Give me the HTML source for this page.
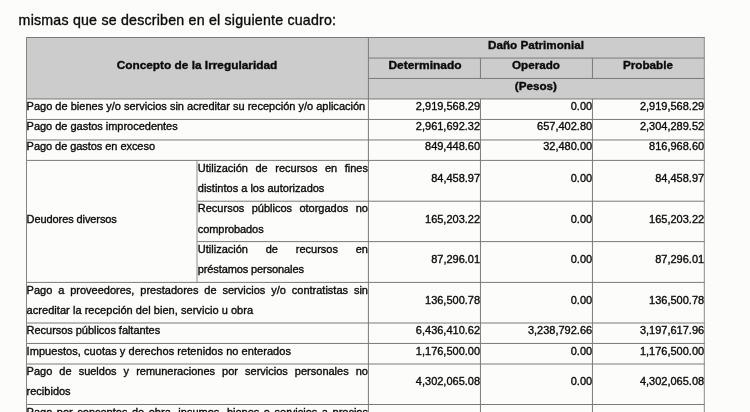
<!DOCTYPE html>
<html lang="es"><head><meta charset="utf-8"><title>Cuadro</title><style>
html,body{margin:0;padding:0;}
body{width:750px;height:412px;overflow:hidden;background:#fcfcfa;position:relative;font-family:"Liberation Sans",sans-serif;color:#0a0a0a;}
.grid{position:absolute;left:0;top:0;}
.t{position:absolute;white-space:nowrap;font-size:11px;line-height:20px;-webkit-text-stroke:0.35px #0a0a0a;}
.b{font-weight:bold;transform:scaleX(1.06);transform-origin:50% 50%;}
.j{text-align:justify;text-align-last:justify;white-space:normal;}
</style></head>
<body>
<svg class="grid" width="750" height="412" viewBox="0 0 750 412" shape-rendering="geometricPrecision"><rect x="26.50" y="37.50" width="677.80" height="61.45" fill="#cccccc"/><rect x="26.00" y="37.00" width="678.80" height="1.00" fill="#7a7a7a"/><rect x="26.00" y="98.45" width="678.80" height="1.00" fill="#7a7a7a"/><rect x="26.00" y="118.95" width="678.80" height="1.00" fill="#7a7a7a"/><rect x="26.00" y="139.45" width="678.80" height="1.00" fill="#7a7a7a"/><rect x="26.00" y="159.90" width="678.80" height="1.00" fill="#7a7a7a"/><rect x="26.00" y="281.90" width="678.80" height="1.00" fill="#7a7a7a"/><rect x="26.00" y="322.50" width="678.80" height="1.00" fill="#7a7a7a"/><rect x="26.00" y="342.95" width="678.80" height="1.00" fill="#7a7a7a"/><rect x="26.00" y="363.50" width="678.80" height="1.00" fill="#7a7a7a"/><rect x="26.00" y="404.00" width="678.80" height="1.00" fill="#7a7a7a"/><rect x="368.40" y="57.55" width="336.40" height="1.00" fill="#7a7a7a"/><rect x="368.40" y="77.95" width="336.40" height="1.00" fill="#7a7a7a"/><rect x="197.00" y="200.70" width="507.80" height="1.00" fill="#7a7a7a"/><rect x="197.00" y="241.10" width="507.80" height="1.00" fill="#7a7a7a"/><rect x="26.00" y="37.00" width="1.00" height="375.00" fill="#858585"/><rect x="703.80" y="37.00" width="1.00" height="375.00" fill="#8c8c8c"/><rect x="367.90" y="37.00" width="1.00" height="375.00" fill="#7a7a7a"/><rect x="479.95" y="58.05" width="1.00" height="20.40" fill="#7a7a7a"/><rect x="479.95" y="98.95" width="1.00" height="313.05" fill="#7a7a7a"/><rect x="591.95" y="58.05" width="1.00" height="20.40" fill="#7a7a7a"/><rect x="591.95" y="98.95" width="1.00" height="313.05" fill="#7a7a7a"/><rect x="196.50" y="160.40" width="1.00" height="122.00" fill="#8c8c8c"/></svg>
<div class="t" style="left:18.60px;top:10.08px;font-size:14.2px;letter-spacing:0.215px;">mismas que se describen en el siguiente cuadro:</div>
<div class="t b" style="left:26.20px;top:55.49px;width:341.90px;text-align:center;transform:scaleX(1.077);">Concepto de la Irregularidad</div>
<div class="t b" style="left:368.40px;top:34.79px;width:335.90px;text-align:center;">Daño Patrimonial</div>
<div class="t b" style="left:368.70px;top:55.29px;width:112.00px;text-align:center;transform:scaleX(1.088);">Determinado</div>
<div class="t b" style="left:480.45px;top:55.29px;width:112.00px;text-align:center;">Operado</div>
<div class="t b" style="left:592.45px;top:55.29px;width:112.00px;text-align:center;">Probable</div>
<div class="t b" style="left:368.40px;top:75.79px;width:335.90px;text-align:center;">(Pesos)</div>
<div class="t" style="left:26.60px;top:95.59px;letter-spacing:0.007px;">Pago de bienes y/o servicios sin acreditar su recepción y/o aplicación</div>
<div class="t" style="left:368.90px;top:95.59px;width:111.20px;text-align:right;">2,919,568.29</div>
<div class="t" style="left:480.95px;top:95.59px;width:111.20px;text-align:right;">0.00</div>
<div class="t" style="left:592.95px;top:95.59px;width:111.20px;text-align:right;">2,919,568.29</div>
<div class="t" style="left:26.60px;top:115.99px;letter-spacing:-0.02px;">Pago de gastos improcedentes</div>
<div class="t" style="left:368.90px;top:115.99px;width:111.20px;text-align:right;">2,961,692.32</div>
<div class="t" style="left:480.95px;top:115.99px;width:111.20px;text-align:right;">657,402.80</div>
<div class="t" style="left:592.95px;top:115.99px;width:111.20px;text-align:right;">2,304,289.52</div>
<div class="t" style="left:26.60px;top:136.39px;letter-spacing:-0.054px;">Pago de gastos en exceso</div>
<div class="t" style="left:368.90px;top:136.39px;width:111.20px;text-align:right;">849,448.60</div>
<div class="t" style="left:480.95px;top:136.39px;width:111.20px;text-align:right;">32,480.00</div>
<div class="t" style="left:592.95px;top:136.39px;width:111.20px;text-align:right;">816,968.60</div>
<div class="t" style="left:26.60px;top:208.59px;letter-spacing:-0.09px;">Deudores diversos</div>
<div class="t j" style="left:197.80px;top:157.79px;width:170.20px;">Utilización de recursos en fines</div>
<div class="t" style="left:197.80px;top:178.09px;">distintos a los autorizados</div>
<div class="t" style="left:368.90px;top:167.79px;width:111.20px;text-align:right;">84,458.97</div>
<div class="t" style="left:480.95px;top:167.79px;width:111.20px;text-align:right;">0.00</div>
<div class="t" style="left:592.95px;top:167.79px;width:111.20px;text-align:right;">84,458.97</div>
<div class="t j" style="left:197.80px;top:198.39px;width:170.20px;">Recursos públicos otorgados no</div>
<div class="t" style="left:197.80px;top:218.69px;letter-spacing:-0.08px;">comprobados</div>
<div class="t" style="left:368.90px;top:209.19px;width:111.20px;text-align:right;">165,203.22</div>
<div class="t" style="left:480.95px;top:209.19px;width:111.20px;text-align:right;">0.00</div>
<div class="t" style="left:592.95px;top:209.19px;width:111.20px;text-align:right;">165,203.22</div>
<div class="t j" style="left:197.80px;top:238.99px;width:170.20px;">Utilización de recursos en</div>
<div class="t" style="left:197.80px;top:259.29px;letter-spacing:-0.11px;">préstamos personales</div>
<div class="t" style="left:368.90px;top:248.99px;width:111.20px;text-align:right;">87,296.01</div>
<div class="t" style="left:480.95px;top:248.99px;width:111.20px;text-align:right;">0.00</div>
<div class="t" style="left:592.95px;top:248.99px;width:111.20px;text-align:right;">87,296.01</div>
<div class="t j" style="left:26.60px;top:279.59px;width:341.40px;">Pago a proveedores, prestadores de servicios y/o contratistas sin</div>
<div class="t" style="left:26.60px;top:299.89px;letter-spacing:0.045px;">acreditar la recepción del bien, servicio u obra</div>
<div class="t" style="left:368.90px;top:289.69px;width:111.20px;text-align:right;">136,500.78</div>
<div class="t" style="left:480.95px;top:289.69px;width:111.20px;text-align:right;">0.00</div>
<div class="t" style="left:592.95px;top:289.69px;width:111.20px;text-align:right;">136,500.78</div>
<div class="t" style="left:26.60px;top:319.79px;letter-spacing:-0.037px;">Recursos públicos faltantes</div>
<div class="t" style="left:368.90px;top:319.79px;width:111.20px;text-align:right;">6,436,410.62</div>
<div class="t" style="left:480.95px;top:319.79px;width:111.20px;text-align:right;">3,238,792.66</div>
<div class="t" style="left:592.95px;top:319.79px;width:111.20px;text-align:right;">3,197,617.96</div>
<div class="t" style="left:26.60px;top:340.79px;letter-spacing:0.053px;">Impuestos, cuotas y derechos retenidos no enterados</div>
<div class="t" style="left:368.90px;top:340.79px;width:111.20px;text-align:right;">1,176,500.00</div>
<div class="t" style="left:480.95px;top:340.79px;width:111.20px;text-align:right;">0.00</div>
<div class="t" style="left:592.95px;top:340.79px;width:111.20px;text-align:right;">1,176,500.00</div>
<div class="t j" style="left:26.60px;top:360.59px;width:341.40px;">Pago de sueldos y remuneraciones por servicios personales no</div>
<div class="t" style="left:26.60px;top:380.89px;">recibidos</div>
<div class="t" style="left:368.90px;top:370.79px;width:111.20px;text-align:right;">4,302,065.08</div>
<div class="t" style="left:480.95px;top:370.79px;width:111.20px;text-align:right;">0.00</div>
<div class="t" style="left:592.95px;top:370.79px;width:111.20px;text-align:right;">4,302,065.08</div>
<div class="t j" style="left:26.60px;top:402.29px;width:341.40px;">Pago por conceptos de obra, insumos, bienes o servicios a precios</div>
</body></html>
